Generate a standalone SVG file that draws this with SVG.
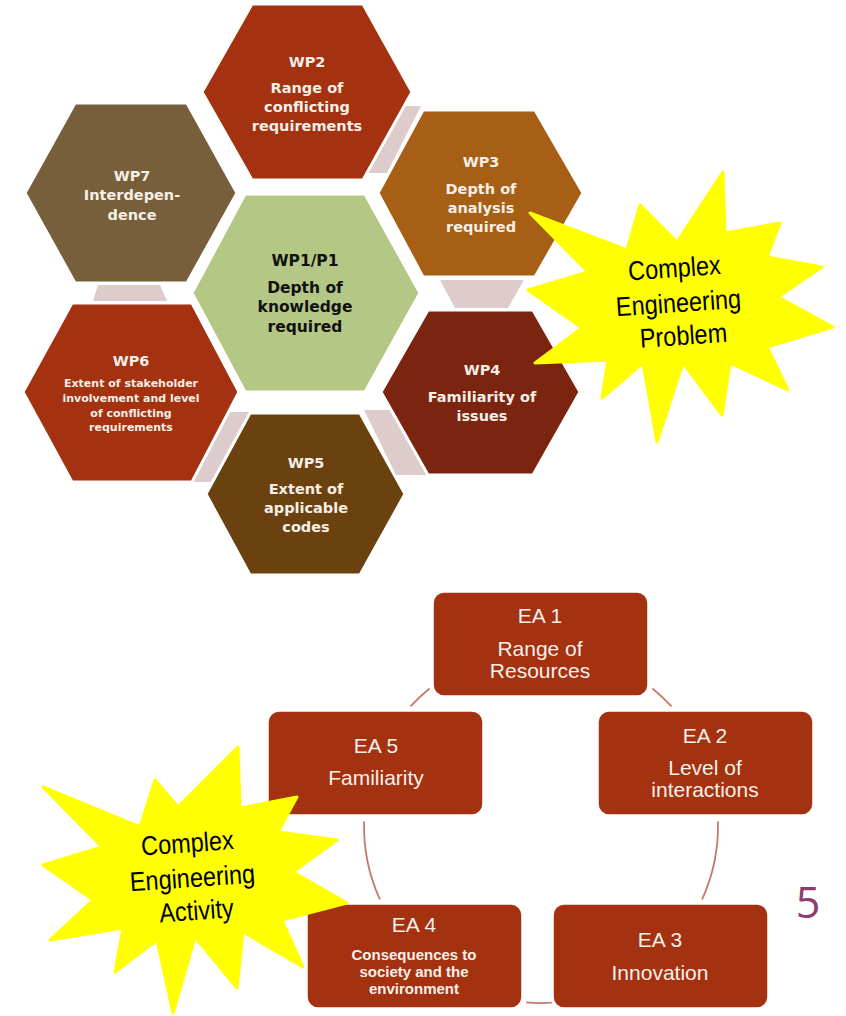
<svg xmlns="http://www.w3.org/2000/svg" width="846" height="1016" viewBox="0 0 846 1016">
<style>
.hex{stroke:#fff;stroke-width:3;stroke-linejoin:miter}
.pink{fill:#DECBCB}
.ht{font-family:"DejaVu Sans",sans-serif;font-weight:bold;font-size:14.5px;fill:#F5EFE6;text-anchor:middle}
.hs{font-size:11px}
.hd{fill:#111;font-size:15.5px}
.box{fill:#A4310F;stroke:#fff;stroke-width:1.5}
.et{font-family:"Liberation Sans",Arial,sans-serif;font-size:21px;fill:#F8F0EA;text-anchor:middle}
.eb{font-size:15px;font-weight:bold}
.conn{fill:none;stroke:#C47A66;stroke-width:1.8}
.star{fill:#FFFF00;stroke:#FFFF00;stroke-width:3;stroke-linejoin:round}
.st{font-family:"Liberation Sans",Arial,sans-serif;font-size:27px;fill:#000;text-anchor:middle}
</style>
<rect width="846" height="1016" fill="#fff"/>
<g id="hex-links">
<polygon class="pink" points="401,106 421,106 387,173 365,173"/>
<polygon class="pink" points="440,280 524,280 508,308 455,308"/>
<polygon class="pink" points="98,285 160,285 167,301 93,301"/>
<polygon class="pink" points="228,412 250,412 213,482 192,482"/>
<polygon class="pink" points="364,410 390,410 427,475 396,475"/>
</g>
<g id="wp2"><polygon class="hex" fill="#A4310F" points="202,92 252,4 363,4 412,92 363,180 252,180"/>
<text class="ht" x="307" y="67">WP2</text><text class="ht" x="307" y="93">Range of</text><text class="ht" x="307" y="112">conflicting</text><text class="ht" x="307" y="131">requirements</text></g>
<g id="wp3"><polygon class="hex" fill="#A65F15" points="378,193 423,110 535,110 583,193 535,277 423,277"/>
<text class="ht" x="481" y="167">WP3</text><text class="ht" x="481" y="194">Depth of</text><text class="ht" x="481" y="213">analysis</text><text class="ht" x="481" y="232">required</text></g>
<g id="wp7"><polygon class="hex" fill="#775F3C" points="25,193 75,103 187,103 237,193 187,283 75,283"/>
<text class="ht" x="132" y="181">WP7</text><text class="ht" x="132" y="200">Interdepen-</text><text class="ht" x="132" y="220">dence</text></g>
<g id="wp1"><polygon class="hex" fill="#B5C785" points="192,293 245,194 365,194 420,293 365,392 245,392"/>
<text class="ht hd" x="305" y="266">WP1/P1</text><text class="ht hd" x="305" y="293">Depth of</text><text class="ht hd" x="305" y="312">knowledge</text><text class="ht hd" x="305" y="332">required</text></g>
<g id="wp6"><polygon class="hex" fill="#A4310F" points="23,392 72,303 192,303 239,392 192,482 72,482"/>
<text class="ht" x="131" y="366">WP6</text><text class="ht hs" x="131" y="387">Extent of stakeholder</text><text class="ht hs" x="131" y="402">involvement and level</text><text class="ht hs" x="131" y="417">of conflicting</text><text class="ht hs" x="131" y="431">requirements</text></g>
<g id="wp4"><polygon class="hex" fill="#7B2410" points="381,392 428,310 533,310 580,392 533,475 428,475"/>
<text class="ht" x="482" y="375">WP4</text><text class="ht" x="482" y="402">Familiarity of</text><text class="ht" x="482" y="421">issues</text></g>
<g id="wp5"><polygon class="hex" fill="#6C4110" points="206,494 250,413 360,413 405,494 360,575 250,575"/>
<text class="ht" x="306" y="468">WP5</text><text class="ht" x="306" y="494">Extent of</text><text class="ht" x="306" y="513">applicable</text><text class="ht" x="306" y="532">codes</text></g>
<g id="connectors">
<path class="conn" d="M652.4,688.5 A177,177 0 0 1 671.5,706.4"/>
<path class="conn" d="M717.9,821.4 A177,177 0 0 1 702.1,899.4"/>
<path class="conn" d="M551.8,1002.7 A177,177 0 0 1 526.2,1002.4"/>
<path class="conn" d="M379.9,899.4 A177,177 0 0 1 364.1,821.4"/>
<path class="conn" d="M410.5,706.4 A177,177 0 0 1 429.6,688.5"/>
</g>
<g id="ea1"><rect class="box" x="433" y="592" width="215" height="104" rx="11"/>
<text class="et" x="540" y="623">EA 1</text><text class="et" x="540" y="656">Range of</text><text class="et" x="540" y="678">Resources</text></g>
<g id="ea2"><rect class="box" x="598" y="711" width="215" height="104" rx="11"/>
<text class="et" x="705" y="743">EA 2</text><text class="et" x="705" y="775">Level of</text><text class="et" x="705" y="797">interactions</text></g>
<g id="ea3"><rect class="box" x="553" y="904" width="215" height="104" rx="11"/>
<text class="et" x="660" y="947">EA 3</text><text class="et" x="660" y="980">Innovation</text></g>
<g id="ea4"><rect class="box" x="307" y="904" width="215" height="104" rx="11"/>
<text class="et" x="414" y="932">EA 4</text><text class="et eb" x="414" y="960">Consequences to</text><text class="et eb" x="414" y="977">society and the</text><text class="et eb" x="414" y="994">environment</text></g>
<g id="ea5"><rect class="box" x="268" y="711" width="215" height="104" rx="11"/>
<text class="et" x="376" y="753">EA 5</text><text class="et" x="376" y="785">Familiarity</text></g>
<text id="page-number" x="808" y="918" font-family="'Open Sans',sans-serif" font-size="43" fill="#8C3D6E" text-anchor="middle">5</text>
<g id="star-problem">
<polygon class="star" points="530,213 627,250 640,205 677,242 723,172 725,233 780,223 767,257 822,267 778,297 833,327 767,347 788,390 730,363 722,415 683,363 657,442 643,363 602,398 608,360 535,363 582,328 528,290 588,272"/>
<g transform="translate(679,310) rotate(-4) scale(0.87,1)">
<text class="st" x="-2" y="-33">Complex</text><text class="st" x="0" y="2">Engineering</text><text class="st" x="3" y="35">Problem</text></g>
</g>
<g id="star-activity">
<polygon class="star" points="43,787 140,827 155,780 178,807 238,747 240,808 297,797 278,832 337,840 293,872 347,903 282,920 303,967 243,932 237,988 195,937 173,1013 157,940 115,972 123,928 50,940 93,900 43,865 102,847"/>
<g transform="translate(193,887) rotate(-4) scale(0.87,1)">
<text class="st" x="-3" y="-35">Complex</text><text class="st" x="0" y="0">Engineering</text><text class="st" x="2" y="33">Activity</text></g>
</g>
</svg>
